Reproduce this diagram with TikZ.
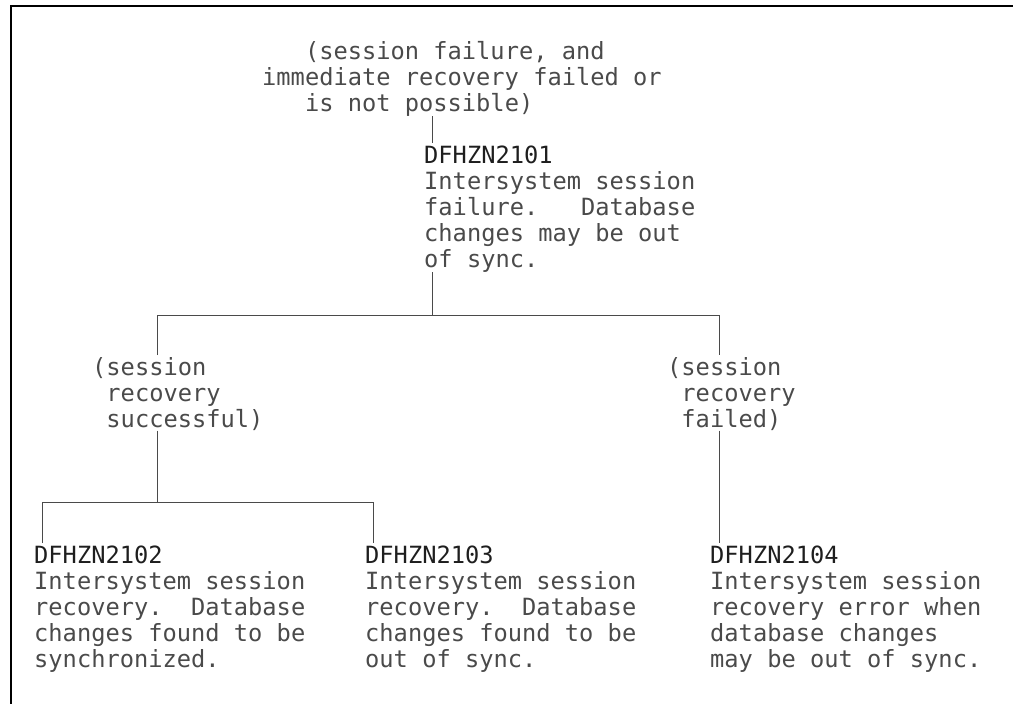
\documentclass[tikz,border=0pt]{standalone}
\usepackage{fontspec}
\setmonofont{DejaVu Sans Mono}
\usetikzlibrary{positioning}
\definecolor{msgtext}{HTML}{4A4A4A}
\definecolor{msgcode}{HTML}{1E1E1E}
\definecolor{linkgray}{HTML}{4A4A4A}
\newcommand{\msgfont}{\ttfamily\fontsize{23.7}{26}\selectfont\frenchspacing}
\newcommand{\topstrut}{\rule{0pt}{20pt}}
\newcommand{\msgid}[1]{\textcolor{msgcode}{#1}}

\begin{document}
\begin{tikzpicture}[x=1pt, y=-1pt, font=\msgfont,
  block/.style={anchor=north west, inner sep=0pt, align=left, text=msgtext},
  link/.style={draw=linkgray, line width=0.9pt}]
\useasboundingbox (0,0) rectangle (1013,704);
\draw[line width=1.6pt] (11,704) -- (11,6) -- (1013,6);

% conditions
\node[block] (cond0) at (262,39) {\topstrut\phantom{xxx}(session failure, and\\immediate recovery failed or\\\phantom{xxx}is not possible)};
\node[block] (cond1) at (92,355) {\topstrut(session\\\phantom{x}recovery\\\phantom{x}successful)};
\node[block] (cond2) at (667,355) {\topstrut(session\\\phantom{x}recovery\\\phantom{x}failed)};

% messages
\node[block] (msg1) at (424,143) {\topstrut\msgid{DFHZN2101}\\Intersystem session\\failure.\ \ \ Database\\changes may be out\\of sync.};
\node[block] (msg2) at (34,543) {\topstrut\msgid{DFHZN2102}\\Intersystem session\\recovery.\ \ Database\\changes found to be\\synchronized.};
\node[block] (msg3) at (365,543) {\topstrut\msgid{DFHZN2103}\\Intersystem session\\recovery.\ \ Database\\changes found to be\\out of sync.};
\node[block] (msg4) at (710,543) {\topstrut\msgid{DFHZN2104}\\Intersystem session\\recovery error when\\database changes\\may be out of sync.};

\coordinate[right=8pt of msg1.north west] (drop1);
\coordinate[right=8pt of msg2.north west] (drop2);
\coordinate[right=8pt of msg3.north west] (drop3);
\coordinate (branch1) at (157,315);
\coordinate (branch2) at (719,315);
\coordinate (fork2) at (157,502);

% tree
\draw[link] (drop1 |- cond0.south) -- (drop1);
\draw[link] (drop1 |- msg1.south) -- (drop1 |- branch1);
\draw[link] (branch1 |- cond1.north) -- (branch1) -- (branch2) -- (branch2 |- cond2.north);
\draw[link] (branch1 |- cond1.south) -- (fork2);
\draw[link] (drop2) -- (drop2 |- fork2) -- (drop3 |- fork2) -- (drop3);
\draw[link] (branch2 |- cond2.south) -- (branch2 |- msg4.north);
\end{tikzpicture}
\end{document}
